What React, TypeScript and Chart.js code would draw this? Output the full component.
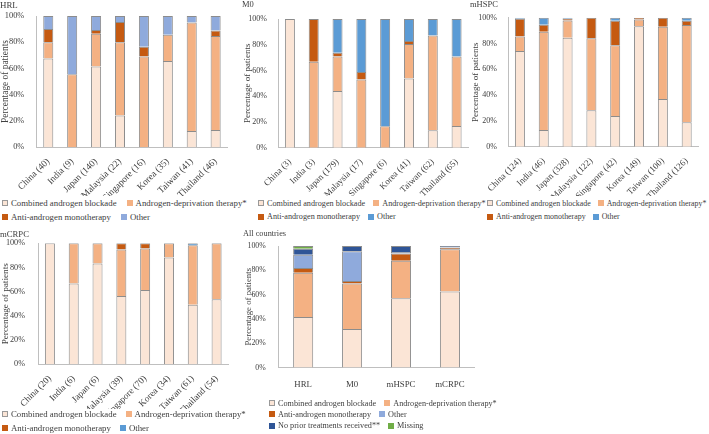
import React, { useEffect, useRef } from "react";
import { Chart, registerables } from "chart.js";
Chart.register(...registerables);

const FONT = "'Liberation Serif', 'Times New Roman', serif";
const TEXT = "#404040";
const EDGE = "#8c8c8c";
const AXIS = "#bfbfbf";

// Series names
const nameCab = "Combined androgen blockade";
const nameAdt = "Androgen-deprivation therapy*";
const nameAam = "Anti-androgen monotherapy";
const nameOther = "Other";
const nameNoPrior = "No prior treatments received**";
const nameMissing = "Missing";

// Colours
const cCab = "#FBE5D6";
const cAdt = "#F4B183";
const cAam = "#C55A11";
const cOtherLight = "#8FAADC";
const cOther = "#5B9BD5";
const cNoPrior = "#2F5597";
const cMissing = "#70AD47";

// HRL
const hrlLabels = ["China (40)", "India (9)", "Japan (140)", "Malaysia (22)", "Singapore (16)", "Korea (35)", "Taiwan (41)", "Thailand (46)"];
const hrlCab = [67.5, 0, 61.4, 24, 0, 65.7, 12.2, 13];
const hrlAdt = [12.5, 55.6, 25, 56, 69, 20, 82.9, 71.7];
const hrlAam = [10, 0, 2.9, 15.5, 7.5, 0, 0, 4.3];
const hrlOther = [10, 44.4, 10.7, 4.5, 23.5, 14.3, 4.9, 11];

// M0
const m0Labels = ["China (3)", "India (3)", "Japan (179)", "Malaysia (17)", "Singapore (6)", "Korea (41)", "Taiwan (62)", "Thailand (65)"];
const m0Cab = [100, 0, 44.1, 0, 0, 53.7, 13.5, 16.9];
const m0Adt = [0, 66.7, 26.8, 52.9, 16.7, 26.8, 73.6, 53.9];
const m0Aam = [0, 33.3, 2.8, 5.9, 0, 2.4, 0, 0];
const m0Other = [0, 0, 26.3, 41.2, 83.3, 17.1, 12.9, 29.2];

// mHSPC
const mhLabels = ["China (124)", "India (46)", "Japan (328)", "Malaysia (122)", "Singapore (42)", "Korea (149)", "Taiwan (100)", "Thailand (126)"];
const mhCab = [74.2, 13, 84.5, 28.2, 23.8, 93.3, 37, 19];
const mhAdt = [11.3, 76.1, 13.4, 55.8, 54.8, 5.4, 56, 75.4];
const mhAam = [13.7, 5.5, 1.3, 16, 19, 1.3, 7, 3.2];
const mhOther = [0.8, 5.4, 0.8, 0, 2.4, 0, 0, 2.4];

// mCRPC
const mcLabels = ["China (20)", "India (6)", "Japan (6)", "Malaysia (39)", "Singapore (70)", "Korea (34)", "Taiwan (61)", "Thailand (54)"];
const mcCab = [100, 66.7, 83.3, 56.4, 61.4, 88.2, 49.2, 53.7];
const mcAdt = [0, 33.3, 16.7, 38.5, 34.3, 11.8, 49.2, 46.3];
const mcAam = [0, 0, 0, 5.1, 4.3, 0, 0, 0];
const mcOther = [0, 0, 0, 0, 0, 0, 1.6, 0];

// All countries
const allLabels = ["HRL", "M0", "mHSPC", "mCRPC"];
const allCab = [41.5, 31.7, 56.9, 62.6];
const allAdt = [36.5, 37.5, 31, 34.7];
const allAam = [3.9, 2.0, 6, 1.3];
const allOther = [11, 24.4, 1.1, 0.3];
const allNoPrior = [4.9, 4.4, 5.0, 1.1];
const allMissing = [2.2, 0, 0, 0];

const yTicks = [0, 20, 40, 60, 80, 100];

type Series = { name: string; data: number[]; color: string };
type Box = { x: number; y: number; w: number; h: number };
type Area = { l: number; t: number; r: number; b: number };

function Panel(p: { title: string; labels: string[]; series: Series[]; box: Box; area: Area; barPct: number; rotate: number; tickPad: number; xPad: number; fs: number }) {
  const ref = useRef<HTMLCanvasElement>(null);
  useEffect(() => {
    const titleFs = p.fs - 0.5;
    const lineH = titleFs * 1.2;
    const yW = p.area.l - p.box.x;
    const padR = p.box.x + p.box.w - p.area.r;
    const titlePadB = p.area.t - p.box.y - lineH;
    const xH = p.box.y + p.box.h - p.area.b;
    const xFont = { family: FONT, size: p.fs };
    const yFont = { family: FONT, size: p.fs - 1 };
    const chart = new Chart(ref.current as HTMLCanvasElement, {
      type: "bar",
      data: {
        labels: p.labels,
        datasets: p.series.map((s) => ({
          label: s.name,
          data: s.data,
          backgroundColor: s.color,
          borderColor: EDGE,
          borderWidth: (c: any) => (c.raw ? 1 : 0),
          barPercentage: p.barPct,
          categoryPercentage: 1,
        })),
      },
      options: {
        responsive: false,
        animation: false,
        events: [],
        layout: { padding: { left: 0, top: 0, right: padR, bottom: 0 } },
        plugins: {
          legend: { display: false },
          tooltip: { enabled: false },
          title: {
            display: true,
            text: p.title,
            align: "start",
            color: TEXT,
            font: { family: FONT, size: titleFs, weight: "normal" as any },
            padding: { top: 0, bottom: titlePadB },
          },
        },
        scales: {
          x: {
            stacked: true,
            grid: { display: false },
            border: { display: true, color: AXIS },
            ticks: { font: xFont, color: TEXT, minRotation: p.rotate, maxRotation: p.rotate, autoSkip: false, padding: p.xPad },
            afterFit: (s: any) => { s.height = xH; },
          },
          y: {
            stacked: true,
            min: 0,
            max: 100,
            grid: { display: false },
            border: { display: true, color: AXIS },
            afterBuildTicks: (s: any) => { s.ticks = yTicks.map((v) => ({ value: v })); },
            ticks: { font: yFont, color: TEXT, padding: p.tickPad, callback: (v: any) => v + "%" },
            title: { display: true, text: "Percentage of patients", font: xFont, color: TEXT, padding: 0 },
            afterFit: (s: any) => { s.width = yW; },
          },
        },
      },
    } as any);
    return () => chart.destroy();
  }, []);
  return (
    <canvas
      ref={ref}
      width={p.box.w}
      height={p.box.h}
      style={{ position: "absolute", left: p.box.x, top: p.box.y, width: p.box.w, height: p.box.h }}
    />
  );
}

function Legend(p: { x: number; rows: number[]; items: Series[][]; size: number; gap: number }) {
  return (
    <>
      {p.items.map((row, i) => (
        <div
          key={i}
          style={{
            position: "absolute",
            left: p.x,
            top: p.rows[i] - 7,
            height: 14,
            display: "flex",
            alignItems: "center",
            whiteSpace: "nowrap",
            fontFamily: FONT,
            fontSize: p.size,
            color: TEXT,
          }}
        >
          {row.map((it, j) => (
            <span key={j} style={{ display: "inline-flex", alignItems: "center", marginRight: p.gap }}>
              <span
                style={{
                  display: "inline-block",
                  width: 4,
                  height: 4,
                  background: it.color,
                  border: "1px solid " + (it.color === cCab ? "#999" : it.color),
                  marginRight: 3,
                }}
              />
              {it.name}
            </span>
          ))}
        </div>
      ))}
    </>
  );
}

export default function App() {
  const hrl: Series[] = [
    { name: nameCab, data: hrlCab, color: cCab },
    { name: nameAdt, data: hrlAdt, color: cAdt },
    { name: nameAam, data: hrlAam, color: cAam },
    { name: nameOther, data: hrlOther, color: cOtherLight },
  ];
  const m0: Series[] = [
    { name: nameCab, data: m0Cab, color: cCab },
    { name: nameAdt, data: m0Adt, color: cAdt },
    { name: nameAam, data: m0Aam, color: cAam },
    { name: nameOther, data: m0Other, color: cOther },
  ];
  const mh: Series[] = [
    { name: nameCab, data: mhCab, color: cCab },
    { name: nameAdt, data: mhAdt, color: cAdt },
    { name: nameAam, data: mhAam, color: cAam },
    { name: nameOther, data: mhOther, color: cOther },
  ];
  const mc: Series[] = [
    { name: nameCab, data: mcCab, color: cCab },
    { name: nameAdt, data: mcAdt, color: cAdt },
    { name: nameAam, data: mcAam, color: cAam },
    { name: nameOther, data: mcOther, color: cOther },
  ];
  const all: Series[] = [
    { name: nameCab, data: allCab, color: cCab },
    { name: nameAdt, data: allAdt, color: cAdt },
    { name: nameAam, data: allAam, color: cAam },
    { name: nameOther, data: allOther, color: cOtherLight },
    { name: nameNoPrior, data: allNoPrior, color: cNoPrior },
    { name: nameMissing, data: allMissing, color: cMissing },
  ];
  return (
    <div style={{ position: "absolute", left: 0, top: 0, width: 709, height: 434, background: "#fff", overflow: "hidden" }}>
      <Panel title="HRL" labels={hrlLabels} series={hrl} box={{ x: 0, y: 0, w: 240, h: 196 }} area={{ l: 36.3, t: 16, r: 227.6, b: 147 }} barPct={0.42} rotate={45} tickPad={4} xPad={1} fs={9.4} />
      <Panel title="M0" labels={m0Labels} series={m0} box={{ x: 242, y: 0, w: 230, h: 196 }} area={{ l: 278, t: 19, r: 468.5, b: 147.7 }} barPct={0.42} rotate={45} tickPad={3} xPad={1} fs={9} />
      <Panel title="mHSPC" labels={mhLabels} series={mh} box={{ x: 470, y: 0, w: 239, h: 196 }} area={{ l: 508, t: 17.7, r: 698.6, b: 146.7 }} barPct={0.42} rotate={45} tickPad={3} xPad={1} fs={9} />
      <Panel title="mCRPC" labels={mcLabels} series={mc} box={{ x: 0, y: 229, w: 240, h: 180 }} area={{ l: 38, t: 243.3, r: 228.5, b: 364.3 }} barPct={0.42} rotate={45} tickPad={5} xPad={1} fs={9.2} />
      <Panel title="All countries" labels={allLabels} series={all} box={{ x: 243, y: 229, w: 240, h: 158 }} area={{ l: 278.7, t: 246, r: 474.4, b: 367.5 }} barPct={0.41} rotate={0} tickPad={5} xPad={4} fs={8.8} />
      <Legend x={2} rows={[203, 216.5]} items={[[hrl[0], hrl[1]], [hrl[2], hrl[3]]]} size={8.8} gap={10} />
      <Legend x={258} rows={[203, 216.5]} items={[[m0[0], m0[1]], [m0[2], m0[3]]]} size={8.2} gap={8} />
      <Legend x={487} rows={[203, 216.5]} items={[[mh[0], mh[1]], [mh[2], mh[3]]]} size={7.9} gap={7} />
      <Legend x={2} rows={[414, 428]} items={[[mc[0], mc[1]], [mc[2], mc[3]]]} size={8.8} gap={9} />
      <Legend x={269} rows={[403, 414, 425.5]} items={[[all[0], all[1]], [all[2], all[3]], [all[4], all[5]]]} size={8.2} gap={8} />
    </div>
  );
}
